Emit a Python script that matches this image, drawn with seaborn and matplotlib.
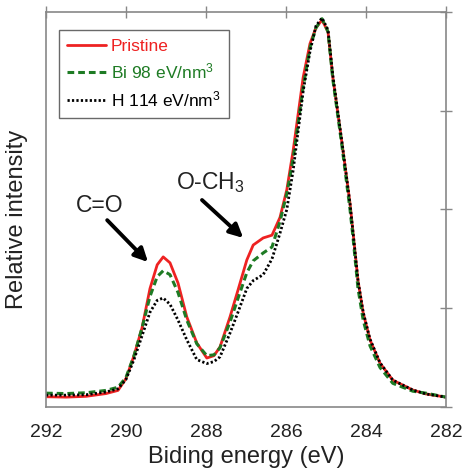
import matplotlib
matplotlib.use("Agg")
import matplotlib.pyplot as plt
import seaborn as sns
import numpy as np

energy = [292.0, 291.5, 291.0, 290.5, 290.2, 290.0, 289.8, 289.6, 289.4, 289.22, 289.07,
          288.9, 288.7, 288.48, 288.23, 287.98, 287.8, 287.65, 287.4, 287.2, 286.98,
          286.82, 286.57, 286.35, 286.15, 285.98, 285.82, 285.57, 285.4, 285.25, 285.1,
          284.95, 284.83, 284.6, 284.4, 284.33, 284.2, 284.07, 283.9, 283.65, 283.33,
          282.83, 282.5, 282.0]

pristine = [0.026, 0.025, 0.027, 0.034, 0.042, 0.072, 0.13, 0.2, 0.3, 0.36, 0.38,
            0.365, 0.314, 0.228, 0.162, 0.124, 0.13, 0.152, 0.228, 0.296, 0.372,
            0.41, 0.428, 0.435, 0.48, 0.55, 0.65, 0.835, 0.92, 0.96, 0.98,
            0.95, 0.835, 0.668, 0.516, 0.448, 0.32, 0.238, 0.17, 0.111, 0.068,
            0.043, 0.033, 0.025]

bi98 = [0.035, 0.034, 0.036, 0.042, 0.05, 0.075, 0.13, 0.2, 0.28, 0.33, 0.345,
        0.335, 0.29, 0.22, 0.16, 0.13, 0.132, 0.15, 0.215, 0.275, 0.34,
        0.37, 0.39, 0.405, 0.47, 0.54, 0.63, 0.81, 0.91, 0.96, 0.983,
        0.95, 0.83, 0.66, 0.5, 0.435, 0.3, 0.22, 0.155, 0.1, 0.06,
        0.04, 0.035, 0.025]

h114 = [0.03, 0.03, 0.031, 0.038, 0.046, 0.07, 0.12, 0.18, 0.24, 0.27, 0.276,
        0.26, 0.22, 0.17, 0.12, 0.11, 0.115, 0.127, 0.187, 0.24, 0.3,
        0.32, 0.335, 0.375, 0.44, 0.5, 0.6, 0.8, 0.9, 0.965, 0.985,
        0.955, 0.84, 0.67, 0.515, 0.448, 0.32, 0.24, 0.172, 0.112, 0.068,
        0.043, 0.033, 0.025]

labels = ["Pristine", "Bi 98 eV/nm$^3$", "H 114 eV/nm$^3$"]
xticks = [292, 290, 288, 286, 284, 282]

sns.set_style("white")
plt.rcParams['font.family'] = ['Liberation Sans', 'DejaVu Sans']
plt.rcParams['mathtext.fontset'] = 'custom'
plt.rcParams['mathtext.rm'] = 'Liberation Sans'
plt.rcParams['mathtext.it'] = 'Liberation Sans'

fig = plt.figure(figsize=(4.64, 4.70), dpi=100)
ax = fig.add_axes([46/464, 63/470, 400/464, 395/470])

red = "#ee2222"
green = "#1e7b24"
sns.lineplot(x=energy, y=pristine, ax=ax, color=red, lw=2.0, sort=False, label=labels[0])
sns.lineplot(x=energy, y=bi98, ax=ax, color=green, lw=2.2, ls=(0, (2.2, 1.3)), sort=False, label=labels[1])
sns.lineplot(x=energy, y=h114, ax=ax, color="black", lw=2.0, ls=(0, (0.8, 0.8)), sort=False, label=labels[2])

ax.set_xlim(292, 282)
ax.set_ylim(0, 1)
ax.set_xticks(xticks)
ax.set_xticklabels([str(t) for t in xticks])
ax.set_yticks([0, 0.25, 0.5, 0.75, 1.0])
ax.set_yticklabels([])
ax.tick_params(axis='both', which='both', direction='inout', length=9, width=1,
               color='#888888', top=True, right=True, labelsize=14, labelcolor='#222222', pad=8)
for s in ax.spines.values():
    s.set_color('#888888')
    s.set_linewidth(1.2)

ax.set_xlabel("Biding energy (eV)", fontsize=17, color='#222222', labelpad=3)
ax.set_ylabel("Relative intensity", fontsize=17, color='#222222')
ax.yaxis.set_label_coords(-0.045, 0.476)

leg = ax.legend(loc='upper left', bbox_to_anchor=(0.032, 0.955), borderaxespad=0,
                fontsize=12.5, labelcolor='linecolor', handlelength=2.2, handletextpad=0.3,
                frameon=True, fancybox=False, borderpad=0.5, labelspacing=0.45)
leg.get_frame().set_edgecolor('#444444')
leg.get_frame().set_linewidth(1.0)

arrowprops = dict(arrowstyle='-|>', color='black', lw=2.8, mutation_scale=20, shrinkA=0, shrinkB=0)
ax.annotate("", xy=(289.45, 0.367), xytext=(290.47, 0.473), arrowprops=arrowprops)
ax.text(290.65, 0.48, "C=O", fontsize=16.5, ha='center', va='bottom', color='#222222')
ax.annotate("", xy=(287.07, 0.428), xytext=(288.1, 0.524), arrowprops=arrowprops)
ax.text(287.88, 0.537, "O-CH$_3$", fontsize=16.5, ha='center', va='bottom', color='#222222')

fig.savefig("out.png", dpi=100)
